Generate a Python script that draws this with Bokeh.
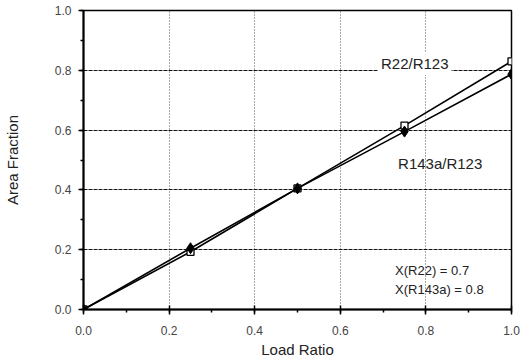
from bokeh.plotting import figure
from bokeh.models import Range1d, Label, FixedTicker, PrintfTickFormatter
from bokeh.embed import file_html
from bokeh.resources import INLINE

# data
load_ratio = [0.0, 0.25, 0.5, 0.75, 1.0]
r22_r123 = [0.0, 0.193, 0.405, 0.615, 0.83]
r143a_r123 = [0.0, 0.205, 0.405, 0.595, 0.787]
tick_values = [0.0, 0.2, 0.4, 0.6, 0.8, 1.0]
series_names = ["R22/R123", "R143a/R123"]
notes = ["X(R22)  =  0.7", "X(R143a)   =  0.8"]

FONT = "Liberation Sans"

p = figure(width=520, height=360, output_backend="svg", toolbar_location=None,
           x_range=Range1d(0, 1), y_range=Range1d(0, 1),
           min_border_left=83, min_border_right=9, min_border_top=10,
           min_border_bottom=51)
p.background_fill_color = "white"
p.outline_line_color = "black"
p.outline_line_width = 1.5

for ax in (p.xaxis[0], p.yaxis[0]):
    ax.ticker = FixedTicker(ticks=tick_values, minor_ticks=[i / 10 for i in range(11)])
    ax.formatter = PrintfTickFormatter(format="%.1f")
    ax.axis_line_width = 2
    ax.axis_line_color = "black"
    ax.major_tick_line_color = "black"
    ax.major_tick_line_width = 1.5
    ax.minor_tick_line_color = "black"
    ax.minor_tick_line_width = 1.5
    ax.major_label_text_font = FONT
    ax.major_label_text_font_size = "12px"
    ax.major_label_text_color = "#444444"
    ax.axis_label_text_font = FONT
    ax.axis_label_text_font_size = "15px"
    ax.axis_label_text_font_style = "normal"
    ax.axis_label_text_color = "#222222"

p.xaxis.axis_label = "Load Ratio"
p.yaxis.axis_label = "Area Fraction"
p.xaxis.major_tick_in = 4
p.xaxis.major_tick_out = 5
p.xaxis.minor_tick_in = 0
p.xaxis.minor_tick_out = 3
p.xaxis.major_label_standoff = 11
p.xaxis.axis_label_standoff = 3
p.yaxis.major_tick_in = 0
p.yaxis.major_tick_out = 5
p.yaxis.minor_tick_in = 0
p.yaxis.minor_tick_out = 3
p.yaxis.major_label_standoff = 7
p.yaxis.axis_label_standoff = 31

p.xgrid.ticker = FixedTicker(ticks=tick_values)
p.ygrid.ticker = FixedTicker(ticks=tick_values)
p.xgrid.grid_line_color = "#555555"
p.xgrid.grid_line_dash = "1 2"
p.xgrid.grid_line_width = 1
p.ygrid.grid_line_color = "#111111"
p.ygrid.grid_line_dash = "4 1"
p.ygrid.grid_line_width = 1

p.line(load_ratio, r22_r123, line_color="black", line_width=1.6)
p.scatter(load_ratio, r22_r123, marker="square", size=7, fill_color="white",
          line_color="black", line_width=1.3)
p.line(load_ratio, r143a_r123, line_color="black", line_width=1.6)
p.scatter(load_ratio, r143a_r123, marker="diamond", size=11, fill_color="black",
          line_color="black")

p.add_layout(Label(x=0.688, y=0.823, text=series_names[0], text_font=FONT,
                   text_font_size="15px", text_color="#222222",
                   text_baseline="middle", text_align="left",
                   background_fill_color="white", padding=3))
p.add_layout(Label(x=0.735, y=0.488, text=series_names[1], text_font=FONT,
                   text_font_size="15px", text_color="#222222",
                   text_baseline="middle", text_align="left"))
p.add_layout(Label(x=0.728, y=0.132, text=notes[0], text_font=FONT,
                   text_font_size="13px", text_color="#222222",
                   text_baseline="middle", text_align="left"))
p.add_layout(Label(x=0.728, y=0.068, text=notes[1], text_font=FONT,
                   text_font_size="13px", text_color="#222222",
                   text_baseline="middle", text_align="left"))

open("out.html", "w").write(file_html(p, INLINE))
